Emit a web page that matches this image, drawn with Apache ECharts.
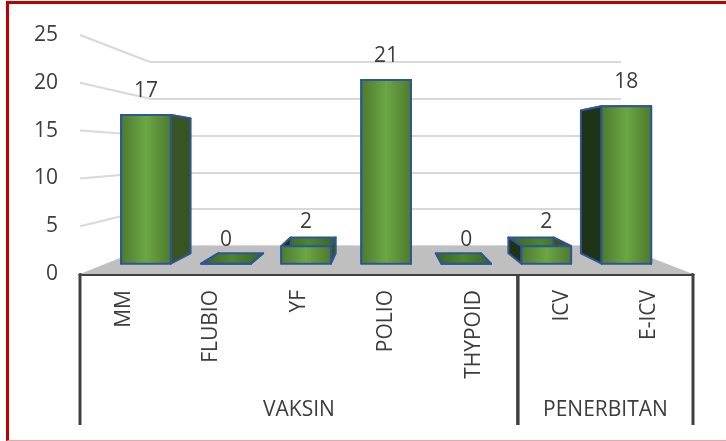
<!DOCTYPE html>
<html lang="en">
<head>
<meta charset="UTF-8">
<title>Vaksin</title>
<script src="https://cdn.jsdelivr.net/npm/echarts@6/dist/echarts.min.js"></script>
<style>
    body, html { margin: 0; padding: 0; background: #fff; }
    #chart { width: 726px; height: 441px; }
    #frame {
        position: absolute; left: 6px; top: 1px; width: 720px; height: 440px;
        border-left: 3px solid #c00000; border-top: 3px solid #c00000;
        border-bottom: 1px solid #f2a3a3; box-sizing: border-box; pointer-events: none;
    }
</style>
</head>
<body>
<div id="chart"></div>
<div id="frame"></div>
<script>
var categories = ['MM', 'FLUBIO', 'YF', 'POLIO', 'THYPOID', 'ICV', 'E-ICV'];
var values = [17, 0, 2, 21, 0, 2, 18];
var groups = ['VAKSIN', 'PENERBITAN'];
var groupSpans = [[0, 4], [5, 6]];
var wallTicks = [5, 10, 15, 20, 25];

var TEXT = '#3d3d3d';
var FONT = 'Open Sans';
var FS = 21;
// depth of bar front / back face between front edge (0) and back wall (1)
var D0 = 0.37, D1 = 0.74, HALF = 0.31;

var chart = echarts.init(document.getElementById('chart'));

function backPt(x, y) { return chart.convertToPixel({ gridIndex: 1 }, [x, y]); }
function mix(a, b, t) { return [a[0] + (b[0] - a[0]) * t, a[1] + (b[1] - a[1]) * t]; }
// point of category i at value v, depth t, shifted sideways by k bands
function corner(api, i, v, t, k) {
    var fb = api.size([1, 0])[0];
    var bb = backPt(1, 0)[0] - backPt(0, 0)[0];
    var c = mix(api.coord([i, v]), backPt(i, v), t);
    return [c[0] + k * (fb + (bb - fb) * t), c[1]];
}

var frontFill = new echarts.graphic.LinearGradient(0, 0, 1, 0, [
    { offset: 0, color: '#4c792d' }, { offset: 0.5, color: '#6ca645' }, { offset: 1, color: '#4c792d' }
]);
var topFill = new echarts.graphic.LinearGradient(0, 0, 1, 0, [
    { offset: 0, color: '#3a6323' }, { offset: 0.5, color: '#4d8530' }, { offset: 1, color: '#3a6323' }
]);
var edge = { stroke: '#2f5597', lineWidth: 2, lineJoin: 'round' };

function renderBar(params, api) {
    var i = api.value(0), v = api.value(1);
    var fl = corner(api, i, 0, D0, -HALF), fr = corner(api, i, 0, D0, HALF);
    var ftl = corner(api, i, v, D0, -HALF), ftr = corner(api, i, v, D0, HALF);
    var bl = corner(api, i, 0, D1, -HALF), br = corner(api, i, 0, D1, HALF);
    var btl = corner(api, i, v, D1, -HALF), btr = corner(api, i, v, D1, HALF);
    function face(pts, fill) {
        return { type: 'polygon', shape: { points: pts }, style: Object.assign({ fill: fill }, edge) };
    }
    return {
        type: 'group',
        children: [
            face([ftl, ftr, btr, btl], topFill),
            face([fl, bl, btl, ftl], '#1f3316'),
            face([fr, br, btr, ftr], '#365522'),
            face([fl, fr, ftr, ftl], frontFill),
            {
                type: 'text',
                style: {
                    text: String(v), x: (ftl[0] + ftr[0]) / 2, y: ftl[1] - 24,
                    fill: TEXT, font: FS + 'px "' + FONT + '"', align: 'center', verticalAlign: 'middle'
                }
            }
        ]
    };
}

function renderFloor(params, api) {
    var n = categories.length;
    return {
        type: 'polygon',
        shape: { points: [
            corner(api, 0, 0, 0, -0.5), corner(api, n - 1, 0, 0, 0.5),
            corner(api, n - 1, 0, 1, 0.5), corner(api, 0, 0, 1, -0.5)
        ] },
        style: { fill: '#bfbfbf' }
    };
}

function renderWall(params, api) {
    var v = api.value(0);
    var a = corner(api, 0, v, 0, -0.5), b = corner(api, 0, v, 1, -0.5);
    return {
        type: 'line',
        shape: { x1: a[0], y1: a[1], x2: b[0], y2: b[1] },
        style: { stroke: '#d9d9d9', lineWidth: 2 }
    };
}

function renderGroup(params, api) {
    var g = api.value(0);
    var span = groupSpans[g];
    var band = api.size([1, 0])[0];
    var x0 = api.coord([span[0], 0])[0] - band / 2;
    var x1 = api.coord([span[1], 0])[0] + band / 2;
    var y0 = api.coord([0, 0])[1];
    return {
        type: 'group',
        children: [
            { type: 'line', shape: { x1: x0, y1: y0, x2: x0, y2: y0 + 151 }, style: { stroke: '#404040', lineWidth: 3 } },
            { type: 'line', shape: { x1: x1, y1: y0, x2: x1, y2: y0 + 151 }, style: { stroke: '#404040', lineWidth: 3 } },
            {
                type: 'text',
                style: {
                    text: groups[g], x: (x0 + x1) / 2, y: y0 + 136,
                    fill: TEXT, font: FS + 'px "' + FONT + '"', align: 'center', verticalAlign: 'middle'
                }
            }
        ]
    };
}

chart.setOption({
    animation: false,
    grid: [
        { left: 80, right: 33, top: 35, bottom: 167, outerBoundsMode: 'none' },
        { left: 150, right: 105, top: 62, bottom: 195, outerBoundsMode: 'none' }
    ],
    xAxis: [{
        type: 'category', gridIndex: 0, data: categories,
        axisLine: { lineStyle: { color: '#404040', width: 3 } },
        axisTick: { show: false },
        axisLabel: { interval: 0, rotate: 90, margin: 16, color: TEXT, fontSize: FS, fontFamily: FONT }
    }, {
        type: 'category', gridIndex: 1, data: categories, show: false
    }],
    yAxis: [{
        type: 'value', gridIndex: 0, min: 0, max: 25, interval: 5,
        axisLine: { show: false }, axisTick: { show: false }, splitLine: { show: false },
        axisLabel: { margin: 22, color: TEXT, fontSize: FS, fontFamily: FONT }
    }, {
        type: 'value', gridIndex: 1, min: 0, max: 25, interval: 5,
        axisLine: { show: false }, axisTick: { show: false }, axisLabel: { show: false },
        splitLine: { lineStyle: { color: '#d9d9d9', width: 2 } }
    }],
    series: [
        { type: 'custom', xAxisIndex: 0, yAxisIndex: 0, renderItem: renderWall, data: wallTicks.map(function (v) { return [v]; }), z: 1 },
        { type: 'custom', xAxisIndex: 0, yAxisIndex: 0, renderItem: renderFloor, data: [[0]], z: 2 },
        { type: 'custom', xAxisIndex: 0, yAxisIndex: 0, renderItem: renderBar, data: values.map(function (v, i) { return [i, v]; }), z: 3 },
        { type: 'custom', xAxisIndex: 0, yAxisIndex: 0, renderItem: renderGroup, data: groups.map(function (g, i) { return [i]; }), z: 4 }
    ]
});
</script>
</body>
</html>
